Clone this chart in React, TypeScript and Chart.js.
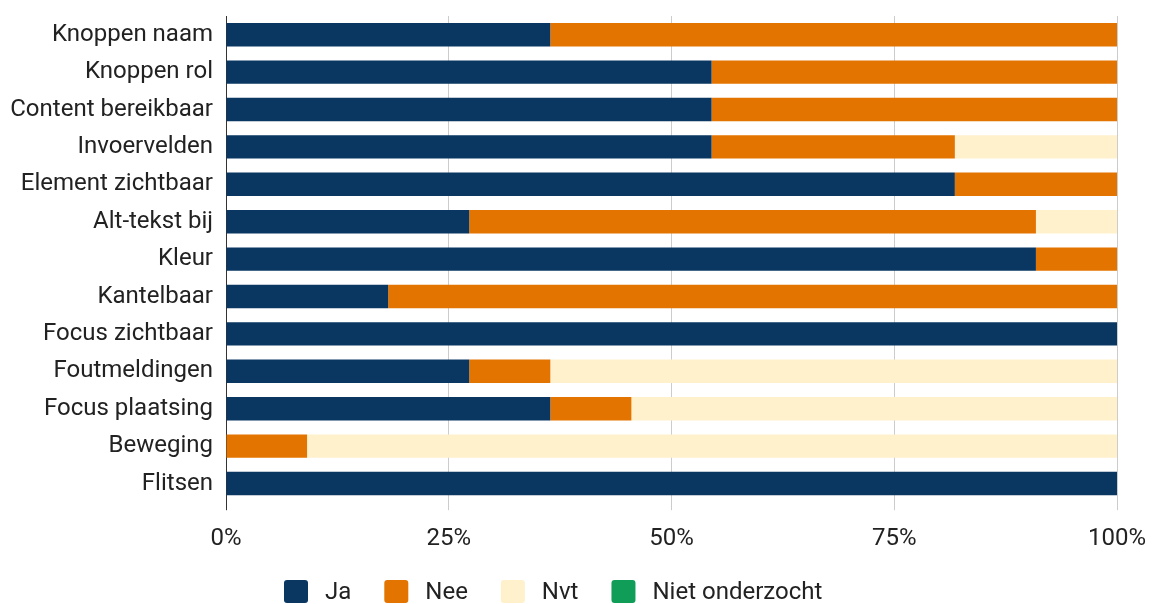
import React, { useEffect, useRef } from "react";
import { Chart, registerables } from "chart.js";

Chart.register(...registerables);

const categories = [
  "Knoppen naam",
  "Knoppen rol",
  "Content bereikbaar",
  "Invoervelden",
  "Element zichtbaar",
  "Alt-tekst bij",
  "Kleur",
  "Kantelbaar",
  "Focus zichtbaar",
  "Foutmeldingen",
  "Focus plaatsing",
  "Beweging",
  "Flitsen",
];

const ja = [36.4, 54.5, 54.5, 54.5, 81.8, 27.3, 90.9, 18.2, 100, 27.3, 36.4, 0, 100];
const nee = [63.6, 45.5, 45.5, 27.3, 18.2, 63.6, 9.1, 81.8, 0, 9.1, 9.1, 9.1, 0];
const nvt = [0, 0, 0, 18.2, 0, 9.1, 0, 0, 0, 63.6, 54.5, 90.9, 0];
const nietOnderzocht = [0, 0, 0, 0, 0, 0, 0, 0, 0, 0, 0, 0, 0];

const xTicks = ["0%", "25%", "50%", "75%", "100%"];

const seriesNames = ["Ja", "Nee", "Nvt", "Niet onderzocht"];
const seriesColors = ["#0a3762", "#e37400", "#fff1cc", "#0f9d58"];

const FONT = "24px Roboto";
const TEXT_COLOR = "#222";
const GRID_COLOR = "#cccccc";
const AXIS_COLOR = "#333333";

// Legend drawn on the chart canvas (box, then label)
const bottomLegend = {
  id: "bottomLegend",
  afterDraw(chart: any) {
    const ctx = chart.ctx as CanvasRenderingContext2D;
    const boxW = 24;
    const boxH = 23;
    const boxTop = 580;
    const textGap = 17;
    const itemGap = 33;
    let x = 284;
    ctx.save();
    ctx.font = FONT;
    ctx.textBaseline = "middle";
    ctx.textAlign = "left";
    chart.data.datasets.forEach((ds: any) => {
      ctx.fillStyle = ds.backgroundColor;
      ctx.beginPath();
      if ((ctx as any).roundRect) {
        (ctx as any).roundRect(x, boxTop, boxW, boxH, 3);
      } else {
        ctx.rect(x, boxTop, boxW, boxH);
      }
      ctx.fill();
      const tx = x + boxW + textGap;
      ctx.fillStyle = TEXT_COLOR;
      ctx.fillText(ds.label, tx, boxTop + boxH / 2 + 1);
      x = tx + ctx.measureText(ds.label).width + itemGap;
    });
    ctx.restore();
  },
};

export default function App() {
  const canvasRef = useRef<HTMLCanvasElement | null>(null);

  useEffect(() => {
    document.body.style.margin = "0";
    const ctx = canvasRef.current;
    if (!ctx) return;
    const values = [ja, nee, nvt, nietOnderzocht];
    const chart = new Chart(ctx, {
      type: "bar",
      data: {
        labels: categories,
        datasets: seriesNames.map((name, i) => ({
          label: name,
          data: values[i],
          backgroundColor: seriesColors[i],
          borderWidth: 0,
          barPercentage: 0.626,
          categoryPercentage: 1,
        })),
      },
      options: {
        indexAxis: "y",
        animation: false,
        responsive: false,
        maintainAspectRatio: false,
        layout: { padding: { left: 10, right: 0, top: 0, bottom: 37 } },
        scales: {
          x: {
            stacked: true,
            min: 0,
            max: 100,
            ticks: {
              stepSize: 25,
              color: TEXT_COLOR,
              font: { family: "Roboto", size: 24 },
              padding: 14,
              callback: (_v: any, idx: number) => xTicks[idx],
            },
            grid: {
              color: GRID_COLOR,
              drawTicks: true,
              tickLength: 8,
              tickColor: (c: any) => (c.index === 0 ? AXIS_COLOR : GRID_COLOR),
            },
            border: { display: false },
            afterFit: (scale: any) => {
              scale.paddingRight = 38;
            },
          },
          y: {
            stacked: true,
            ticks: {
              color: TEXT_COLOR,
              font: { family: "Roboto", size: 24 },
              padding: 13,
            },
            grid: { display: false, drawTicks: false },
            border: { display: true, color: AXIS_COLOR, width: 1 },
            afterFit: (scale: any) => {
              scale.width = 216;
              scale.paddingTop = 16;
            },
          },
        },
        plugins: {
          legend: { display: false },
          tooltip: { enabled: false },
        },
      },
      plugins: [bottomLegend],
    });
    return () => chart.destroy();
  }, []);

  return (
    <div style={{ position: "absolute", left: 0, top: 0, width: 1155, height: 604 }}>
      <canvas ref={canvasRef} width={1155} height={604} />
    </div>
  );
}
